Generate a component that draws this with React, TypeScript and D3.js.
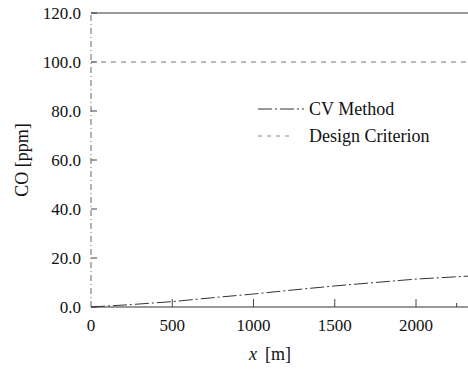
import React, { useEffect, useRef } from "react";
import * as d3 from "d3";

// CV method result
const cvX = [0, 250, 500, 750, 1000, 1250, 1500, 1750, 2000, 2320];
const cvY = [0, 1.0, 2.2, 3.8, 5.3, 7.0, 8.6, 10.0, 11.4, 12.6];
const designX = [0, 2320];
const designY = [100, 100];
const yTicks = [0, 20, 40, 60, 80, 100, 120];
const xTicks = [0, 500, 1000, 1500, 2000];
const legendLabels = ["CV Method", "Design Criterion"];

const App = () => {
  const ref = useRef<SVGSVGElement>(null);

  useEffect(() => {
    const svg = d3.select(ref.current);
    svg.selectAll("*").remove();

    const width = 468;
    const height = 369;
    svg.attr("width", width).attr("height", height)
      .style("font-family", "Liberation Serif, DejaVu Serif, serif");
    svg.append("rect").attr("width", width).attr("height", height).attr("fill", "#fff");

    const x = d3.scaleLinear().domain([0, 2320]).range([91, 468]);
    const y = d3.scaleLinear().domain([0, 120]).range([307, 13]);

    // frame: left axis, top border, bottom axis
    svg.append("line").attr("x1", x(0)).attr("x2", x(0)).attr("y1", y(0)).attr("y2", y(120))
      .attr("stroke", "#666").attr("stroke-width", 1).attr("stroke-dasharray", "6,3,1,3");
    svg.append("line").attr("x1", x(0)).attr("x2", 468).attr("y1", y(120)).attr("y2", y(120))
      .attr("stroke", "#333").attr("stroke-width", 1);
    svg.append("line").attr("x1", x(0)).attr("x2", 468).attr("y1", y(0)).attr("y2", y(0))
      .attr("stroke", "#333").attr("stroke-width", 1);

    // y ticks and labels
    yTicks.forEach((t) => {
      svg.append("line").attr("x1", x(0)).attr("x2", x(0) + 6).attr("y1", y(t)).attr("y2", y(t))
        .attr("stroke", "#444");
      svg.append("text").attr("x", 81).attr("y", y(t)).attr("dy", "0.35em")
        .attr("text-anchor", "end").attr("font-size", 17)
        .attr("fill", "#111").text(t.toFixed(1));
    });

    // x ticks and labels
    xTicks.forEach((t) => {
      if (t > 0) {
        svg.append("line").attr("x1", x(t)).attr("x2", x(t)).attr("y1", y(0)).attr("y2", y(0) - 8)
          .attr("stroke", "#444");
      }
      svg.append("text").attr("x", x(t)).attr("y", 331)
        .attr("text-anchor", "middle").attr("font-size", 17)
        .attr("fill", "#111").text(t);
    });
    svg.append("line").attr("x1", x(2250)).attr("x2", x(2250)).attr("y1", y(0)).attr("y2", y(0) - 4)
      .attr("stroke", "#444");

    // axis titles
    svg.append("text").attr("transform", `translate(28,${(y(0) + y(120)) / 2}) rotate(-90)`)
      .attr("text-anchor", "middle").attr("font-size", 18)
      .attr("fill", "#111").text("CO [ppm]");
    const xt = svg.append("text").attr("x", 270).attr("y", 360).attr("text-anchor", "middle")
      .attr("font-size", 18).attr("fill", "#111");
    xt.append("tspan").attr("font-style", "italic").text("x");
    xt.append("tspan").attr("dx", 8).text("[m]");

    const line = d3.line<[number, number]>().x((d) => x(d[0])).y((d) => y(d[1]));

    // design criterion
    svg.append("path").datum(designX.map((v, i) => [v, designY[i]] as [number, number]))
      .attr("d", line).attr("fill", "none").attr("stroke", "#777").attr("stroke-width", 1)
      .attr("stroke-dasharray", "5,5");

    // CV method
    svg.append("path").datum(cvX.map((v, i) => [v, cvY[i]] as [number, number]))
      .attr("d", line).attr("fill", "none").attr("stroke", "#333").attr("stroke-width", 1)
      .attr("stroke-dasharray", "14,3,2,3");

    // legend
    const styles = [
      { stroke: "#333", dash: "14,3,2,3", x2: 304 },
      { stroke: "#888", dash: "4,5", x2: 290 },
    ];
    legendLabels.forEach((lab, i) => {
      const ly = 109 + i * 27;
      svg.append("line").attr("x1", 258).attr("x2", styles[i].x2).attr("y1", ly).attr("y2", ly)
        .attr("stroke", styles[i].stroke).attr("stroke-dasharray", styles[i].dash);
      svg.append("text").attr("x", 309).attr("y", ly + 6)
        .attr("font-size", 18).attr("fill", "#111").text(lab);
    });
  }, []);

  return <svg ref={ref} style={{ position: "absolute", left: 0, top: 0 }}></svg>;
};

export default App;
